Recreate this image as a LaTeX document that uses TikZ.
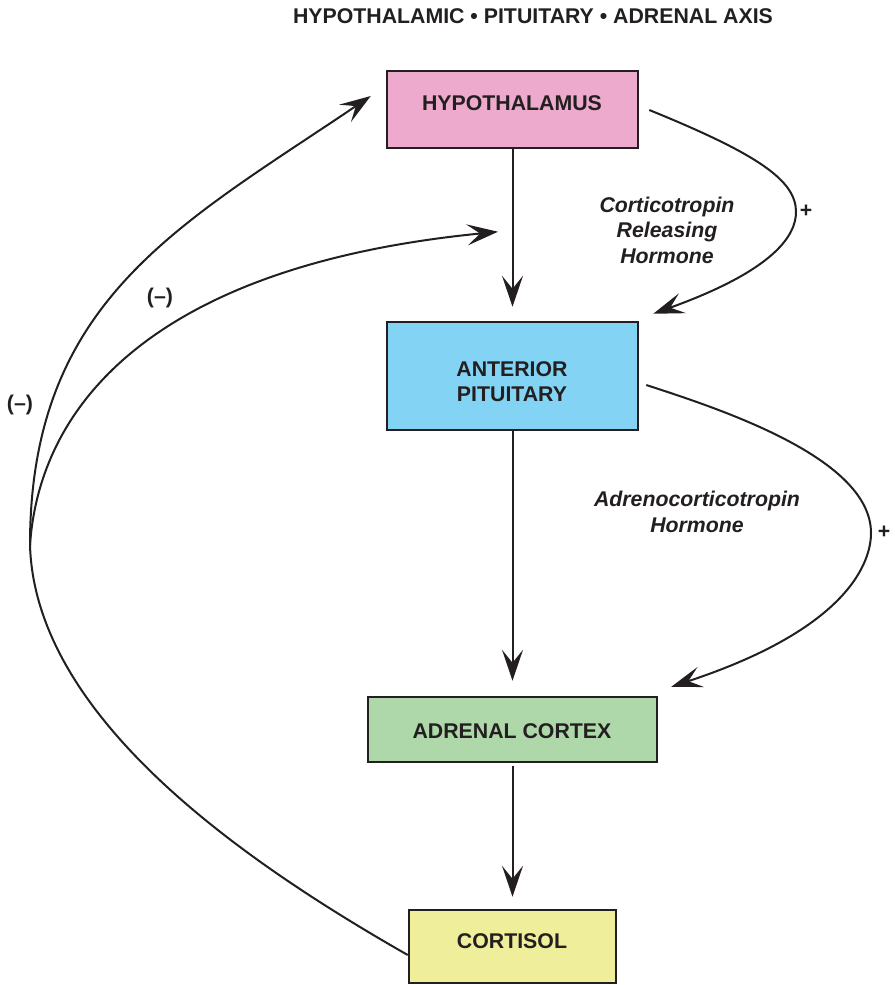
\documentclass[tikz,border=0pt]{standalone}
\usepackage{fontspec}
\setmainfont{Liberation Sans}
\usetikzlibrary{arrows.meta,calc}
\definecolor{ink}{HTML}{231F20}
\definecolor{hypfill}{HTML}{EDAACC}
\definecolor{apfill}{HTML}{83D4F4}
\definecolor{acfill}{HTML}{AED8A9}
\definecolor{cortfill}{HTML}{EFEE9A}
\begin{document}
\begin{tikzpicture}[x=1pt,y=-1pt,
  box/.style={draw=ink, line width=2.5pt, inner sep=0pt},
  lbl/.style={font=\fontsize{21.3}{25.5}\selectfont\bfseries, text=ink, inner sep=0pt},
  hlbl/.style={font=\fontsize{21.3}{25.5}\selectfont\bfseries\itshape, text=ink, inner sep=0pt},
  conn/.style={draw=ink, line width=2pt},
  arr/.style={conn, -{Stealth[length=31pt,width=21pt,inset=13pt]}}]
\useasboundingbox (0,0) rectangle (894,985);

% title
\node[lbl, anchor=base] (title) at (533,23.5) {HYPOTHALAMIC • PITUITARY • ADRENAL AXIS};

% boxes
\node[box, fill=hypfill, minimum width=251pt, minimum height=77pt] (hyp) at (512.5,109.5) {};
\node[box, fill=apfill, minimum width=251pt, minimum height=108pt] (ap) at (512.5,376) {};
\node[box, fill=acfill, minimum width=289pt, minimum height=65pt] (ac) at (512.5,729.5) {};
\node[box, fill=cortfill, minimum width=207pt, minimum height=73pt] (cort) at (512.5,946.5) {};

% box texts
\node[lbl, anchor=base] (hyptxt) at (512,110) {HYPOTHALAMUS};
\node[lbl, anchor=base] (aptxt1) at (512,376.5) {ANTERIOR};
\node[lbl, anchor=base] (aptxt2) at (512,401.5) {PITUITARY};
\node[lbl, anchor=base] (actxt) at (512,738) {ADRENAL CORTEX};
\node[lbl, anchor=base] (corttxt) at (512,948) {CORTISOL};

% hormone labels
\node[hlbl, anchor=base] (crh1) at (667,212) {Corticotropin};
\node[hlbl, anchor=base] (crh2) at (667,237.5) {Releasing};
\node[hlbl, anchor=base] (crh3) at (667,263) {Hormone};
\node[hlbl, anchor=base] (acth1) at (697,506) {Adrenocorticotropin};
\node[hlbl, anchor=base] (acth2) at (697,532) {Hormone};

% signs
\node[lbl] (plus1) at (806,211) {+};
\node[lbl] (plus2) at (884,532) {+};
\node[lbl] (neg1) at (160,298) {(–)};
\node[lbl] (neg2) at (20,405) {(–)};

% straight arrows
\draw[arr, shorten >=14pt] (hyp.south) -- (ap.north);
\draw[arr, shorten >=15pt] (ap.south) -- (ac.north);
\draw[arr, shorten >=12pt] ($(ac.south)+(0,3)$) -- (cort.north);

% right stimulatory curves
\coordinate (r1s) at ($(hyp.east)+(10,0.5)$);
\coordinate (r1e) at ($(ap.north east)+(14,-7)$);
\draw[arr] (r1s) .. controls (760,155) and (796,181) .. (796,212)
  .. controls (796,235) and (775,270) .. (r1e);

\coordinate (r2s) at ($(ap.east)+(7,9)$);
\coordinate (r2e) at ($(ac.north east)+(13,-9)$);
\draw[arr] (r2s) .. controls (720,409) and (871,458) .. (871,533)
  .. controls (871,561) and (850,628) .. (r2e);

% negative feedback curves
\coordinate (c0) at ($(cort.west)+(0,8.5)$);
\coordinate (cusp) at (30,545);
\coordinate (t1) at ($(hyp.west)+(-15,-13.5)$);
\coordinate (t2) at ($(ap.north)+(-14.5,-89)$);
\draw[conn] (c0) .. controls (250,865) and (35,720) .. (cusp);
\draw[arr] (cusp) .. controls (30,300) and (180,225) .. (t1);
\draw[arr] (cusp) .. controls (40,400) and (160,265) .. (t2);
\end{tikzpicture}
\end{document}
